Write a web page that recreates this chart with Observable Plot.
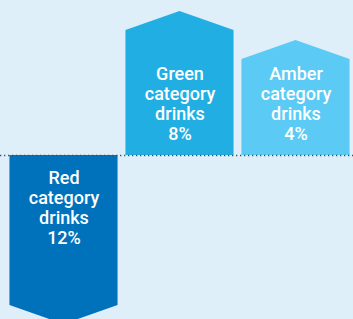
<!DOCTYPE html>
<html>
<head>
<meta charset="utf-8">
<script src="https://cdn.jsdelivr.net/npm/d3@7"></script>
<script src="https://cdn.jsdelivr.net/npm/@observablehq/plot@0.6"></script>
<style>
  html, body { margin: 0; padding: 0; background: #dfeffa; }
  #chart { width: 353px; height: 319px; overflow: hidden; }
</style>
</head>
<body>
<div id="chart"></div>
<script>
// Categories and values
const categories = ["Red", "Green", "Amber"];
const labels = ["Red\ncategory\ndrinks\n12%", "Green\ncategory\ndrinks\n8%", "Amber\ncategory\ndrinks\n4%"];
const percents = [12, 8, 4];
const direction = [-1, 1, 1];
// Illustrative bar lengths (shoulder height) in chart units, as drawn
const barLength = [150, 125, 96];
const arrowHead = [19, 19, 19];
const colors = ["#0072bc", "#21afe3", "#5bcbf5"];

const halfW = 0.466;
const area = [];
categories.forEach((c, i) => {
  const s = direction[i] * barLength[i];
  const p = direction[i] * (barLength[i] + arrowHead[i]);
  area.push({cat: c, x: i - halfW, y: s});
  area.push({cat: c, x: i, y: p});
  area.push({cat: c, x: i + halfW, y: s});
});
const textData = categories.map((c, i) => ({cat: c, x: i, y: direction[i] * 52, label: labels[i]}));

const chart = Plot.plot({
  width: 353,
  height: 319,
  margin: 0,
  style: {background: "#dfeffa", fontFamily: "Roboto, sans-serif"},
  x: {type: "linear", domain: [-0.5474, 2.4957], axis: null},
  y: {domain: [-164, 155], axis: null},
  color: {domain: categories, range: colors},
  marks: [
    Plot.areaY(area, {x: "x", y1: 0, y2: "y", z: "cat", fill: "cat", curve: "linear"}),
    Plot.ruleY([0], {stroke: "#3d5266", strokeWidth: 1.3, strokeDasharray: "1.3,2.7"}),
    Plot.text(textData, {x: "x", y: "y", text: "label", fill: "white", fontSize: 18, fontWeight: 500, lineHeight: 1.11, lineAnchor: "middle", textAnchor: "middle"})
  ]
});
document.getElementById("chart").appendChild(chart);
</script>
</body>
</html>
